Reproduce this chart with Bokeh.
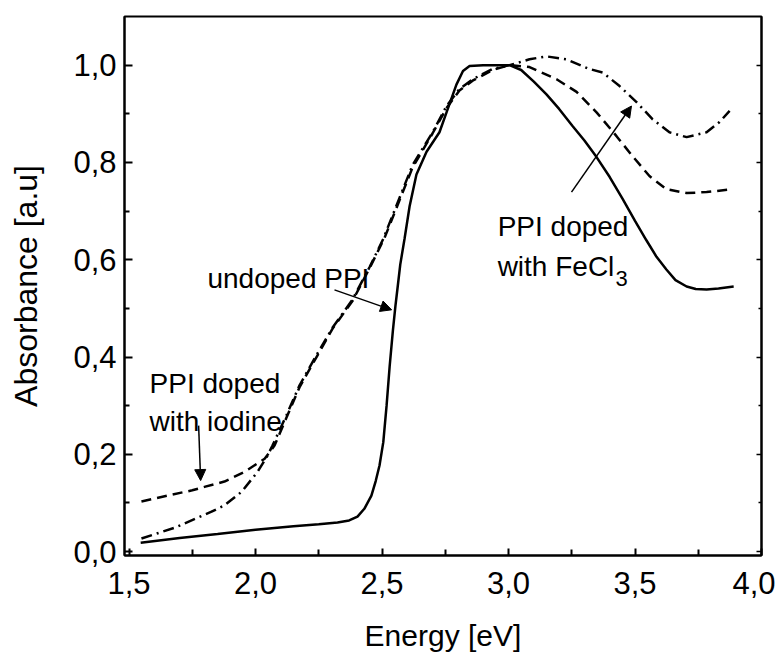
from bokeh.plotting import figure
from bokeh.models import (Range1d, FixedTicker, LinearAxis, Arrow, NormalHead,
                          Label, CustomJSTickFormatter)
from bokeh.embed import file_html
from bokeh.resources import INLINE

# ---------------- data ----------------
x_ticks = [1.5, 2.0, 2.5, 3.0, 3.5, 4.0]
x_tick_labels = ["1,5", "2,0", "2,5", "3,0", "3,5", "4,0"]
x_minor = [1.75, 2.25, 2.75, 3.25, 3.75]
y_ticks = [0.0, 0.2, 0.4, 0.6, 0.8, 1.0]
y_tick_labels = ["0,0", "0,2", "0,4", "0,6", "0,8", "1,0"]
y_minor = [0.1, 0.3, 0.5, 0.7, 0.9]

undoped_x = [1.546, 1.70, 1.85, 2.00, 2.15, 2.25, 2.324, 2.37, 2.403, 2.43,
             2.458, 2.475, 2.490, 2.505, 2.518, 2.530, 2.543, 2.553, 2.562,
             2.572, 2.589, 2.609, 2.636, 2.676, 2.727, 2.755, 2.794, 2.82,
             2.846, 2.90, 2.95, 3.004, 3.05, 3.10, 3.150, 3.20, 3.253, 3.30,
             3.348, 3.40, 3.451, 3.50, 3.545, 3.585, 3.624, 3.66, 3.704, 3.74,
             3.783, 3.83, 3.89]
undoped_y = [0.018, 0.028, 0.036, 0.045, 0.052, 0.056, 0.060, 0.064, 0.072, 0.088,
             0.115, 0.145, 0.177, 0.225, 0.300, 0.380, 0.455, 0.505, 0.545,
             0.590, 0.643, 0.710, 0.775, 0.822, 0.862, 0.903, 0.960, 0.988,
             0.998, 1.0, 1.0, 1.0, 0.990, 0.966, 0.940, 0.910, 0.875, 0.845,
             0.811, 0.770, 0.725, 0.680, 0.640, 0.606, 0.580, 0.558, 0.545, 0.540,
             0.539, 0.541, 0.545]

iodine_x = [1.549, 1.65, 1.75, 1.798, 1.877, 1.957, 2.036, 2.075, 2.122, 2.174,
            2.241, 2.304, 2.383, 2.451, 2.51, 2.569, 2.621, 2.70, 2.755, 2.806,
            2.858, 2.937, 3.004, 3.083, 3.190, 3.269, 3.348, 3.427, 3.490, 3.557,
            3.624, 3.704, 3.783, 3.885]
iodine_y = [0.103, 0.115, 0.126, 0.133, 0.144, 0.164, 0.191, 0.218, 0.275, 0.338,
            0.400, 0.458, 0.515, 0.583, 0.645, 0.722, 0.790, 0.860, 0.912, 0.948,
            0.968, 0.990, 1.0, 0.996, 0.971, 0.945, 0.903, 0.854, 0.813, 0.772,
            0.745, 0.737, 0.739, 0.745]

fecl3_x = [1.549, 1.680, 1.826, 1.877, 1.945, 2.008, 2.047, 2.067, 2.122, 2.174,
           2.241, 2.304, 2.383, 2.451, 2.505, 2.569, 2.621, 2.70, 2.755, 2.806,
           2.858, 2.937, 3.004, 3.083, 3.150, 3.229, 3.320, 3.372, 3.439, 3.506,
           3.569, 3.636, 3.704, 3.783, 3.834, 3.874]
fecl3_y = [0.027, 0.049, 0.082, 0.095, 0.123, 0.164, 0.197, 0.218, 0.280, 0.342,
           0.404, 0.460, 0.518, 0.585, 0.643, 0.727, 0.795, 0.862, 0.916, 0.951,
           0.971, 0.992, 1.0, 1.012, 1.018, 1.012, 0.992, 0.985, 0.957, 0.924,
           0.889, 0.862, 0.852, 0.862, 0.883, 0.906]

FONT = "Liberation Sans"

p = figure(width=775, height=654,
           x_range=Range1d(1.482, 4.0), y_range=Range1d(-0.008, 1.10),
           output_backend="svg", toolbar_location=None,
           min_border_left=124, min_border_top=16,
           min_border_right=14, min_border_bottom=98)
p.xgrid.visible = False
p.ygrid.visible = False
p.outline_line_color = "black"
p.outline_line_width = 2
p.background_fill_color = "white"
p.border_fill_color = "white"

fmt = CustomJSTickFormatter(args=dict(tvals=x_ticks + y_ticks,
                                      tlabels=x_tick_labels + y_tick_labels),
                            code="""
const i = tvals.findIndex(t => Math.abs(t - tick) < 1e-9);
return i >= 0 ? tlabels[i] : tick.toFixed(1).replace('.', ',');
""")

xax = p.xaxis[0]
xax.ticker = FixedTicker(ticks=x_ticks, minor_ticks=x_minor)
xax.formatter = fmt
xax.axis_label = "Energy [eV]"
xax.axis_label_text_font = FONT
xax.axis_label_text_font_style = "normal"
xax.axis_label_text_font_size = "30px"
xax.axis_label_text_color = "black"
xax.axis_label_standoff = 22
xax.major_label_text_font = FONT
xax.major_label_text_font_size = "31px"
xax.major_label_text_color = "black"
xax.major_label_standoff = 16
xax.major_tick_in = 7
xax.major_tick_out = 0
xax.minor_tick_in = 6
xax.minor_tick_out = 0
xax.axis_line_width = 2
xax.major_tick_line_width = 2
xax.minor_tick_line_width = 2

yax = p.yaxis[0]
yax.ticker = FixedTicker(ticks=y_ticks, minor_ticks=y_minor)
yax.formatter = fmt
yax.axis_label = "Absorbance [a.u]"
yax.axis_label_text_font = FONT
yax.axis_label_text_font_style = "normal"
yax.axis_label_text_font_size = "32px"
yax.axis_label_text_color = "black"
yax.axis_label_standoff = 26
yax.major_label_text_font = FONT
yax.major_label_text_font_size = "31px"
yax.major_label_text_color = "black"
yax.major_label_standoff = 8
yax.major_tick_in = 8
yax.major_tick_out = 0
yax.minor_tick_in = 5
yax.minor_tick_out = 0
yax.axis_line_width = 2
yax.major_tick_line_width = 2
yax.minor_tick_line_width = 2

rax = LinearAxis(ticker=FixedTicker(ticks=y_ticks, minor_ticks=y_minor),
                 formatter=CustomJSTickFormatter(code="return '';"),
                 major_label_standoff=0,
                 major_tick_in=5, major_tick_out=0, minor_tick_in=3,
                 minor_tick_out=0, axis_line_width=2,
                 major_tick_line_width=1.5, minor_tick_line_width=1.5)
p.add_layout(rax, "right")

p.line(undoped_x, undoped_y, line_color="black", line_width=2.5)
p.line(iodine_x, iodine_y, line_color="black", line_width=2.5, line_dash="10 6")
p.line(fecl3_x, fecl3_y, line_color="black", line_width=2.5, line_dash="11 5 2 5")

def lab(x, y, t, size="28px"):
    p.add_layout(Label(x=x, y=y, text=t, text_font=FONT, text_font_size=size,
                       text_color="black", text_baseline="alphabetic"))

lab(1.810, 0.561, "undoped PPI")
lab(1.581, 0.345, "PPI doped")
lab(1.581, 0.267, "with iodine")
lab(2.957, 0.669, "PPI doped")
lab(2.957, 0.587, "with FeCl")
lab(3.423, 0.561, "3", size="22px")

def arrow(x0, y0, x1, y1):
    p.add_layout(Arrow(end=NormalHead(size=11, fill_color="black", line_color="black",
                                      line_width=1),
                       x_start=x0, y_start=y0, x_end=x1, y_end=y1,
                       line_color="black", line_width=1.5))

arrow(2.312, 0.538, 2.538, 0.497)
arrow(1.775, 0.259, 1.783, 0.146)
arrow(3.249, 0.739, 3.486, 0.916)

open("out.html", "w").write(file_html(p, INLINE))
